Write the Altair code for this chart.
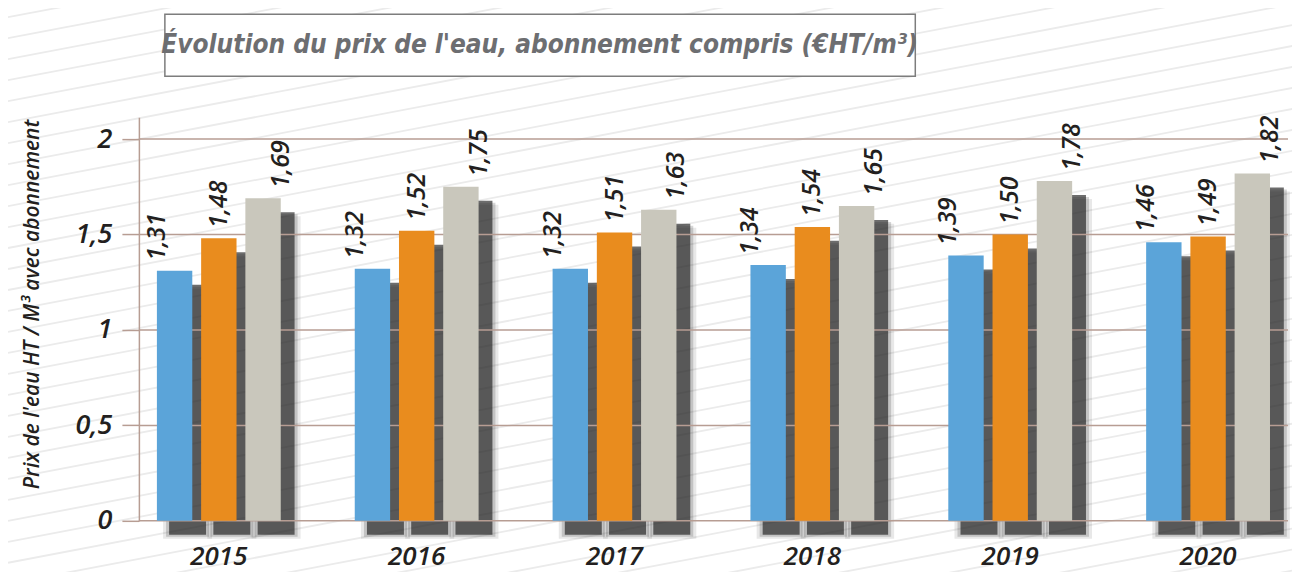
import altair as alt
import pandas as pd

years = ["2015", "2016", "2017", "2018", "2019", "2020"]
series = ["Série 1", "Série 2", "Série 3"]
serie1 = [1.31, 1.32, 1.32, 1.34, 1.39, 1.46]
serie2 = [1.48, 1.52, 1.51, 1.54, 1.50, 1.49]
serie3 = [1.69, 1.75, 1.63, 1.65, 1.78, 1.82]
colors = ["#5ba4d9", "#e98c1e", "#c9c7bc"]
y_ticks = [0, 0.5, 1, 1.5, 2]
title_text = "Évolution du prix de l'eau, abonnement compris (€HT/m³)"
y_title = "Prix de l'eau HT / M³ avec abonnement"

rows = []
for vals, s in zip([serie1, serie2, serie3], series):
    for y, v in zip(years, vals):
        rows.append({"annee": y, "serie": s, "prix": v})
df = pd.DataFrame(rows)
ticks_df = pd.DataFrame({"prix": y_ticks})

W, H = 1150, 404
GRID = "#b79d93"
FONT = "Open Sans"

x_scale = alt.Scale(paddingInner=0.374, paddingOuter=0.091)
x_axis = alt.Axis(title=None, orient="bottom", labelFontSize=26, labelFont=FONT,
                  labelFontStyle="italic", labelFontWeight=600,
                  labelColor="#231f20", labelPadding=23, zindex=1,
                  ticks=False, domain=False, grid=False, labelAngle=0)
y_axis = alt.Axis(values=y_ticks, title=y_title, orient="left", zindex=1,
                  labelExpr="replace('' + datum.value, '.', ',')",
                  labelFontSize=27, labelFont=FONT, labelFontStyle="italic",
                  labelFontWeight=600, labelColor="#231f20", labelPadding=10,
                  tickSize=17, tickColor=GRID, tickWidth=1.5,
                  domainColor=GRID, domainWidth=1.5, grid=False,
                  titleFont=FONT, titleFontSize=21, titleFontStyle="italic",
                  titleFontWeight=600, titleColor="#231f20",
                  titleAngle=270, titleX=-106, titleY=187,
                  titleAlign="center", titleBaseline="middle")
y_scale = alt.Scale(domain=[0, 2.115], nice=False, zero=True)

x_enc = alt.X("annee:N", sort=years, scale=x_scale, axis=x_axis)
y_enc = alt.Y("prix:Q", scale=y_scale, axis=y_axis)
xo_enc = alt.XOffset("serie:N", sort=series,
                     scale=alt.Scale(paddingInner=0.2, paddingOuter=0))
xo_shadow = alt.XOffset("serie:N", sort=series,
                        scale=alt.Scale(paddingInner=0.2, paddingOuter=0,
                                        range=[13, 137]))
color_enc = alt.Color("serie:N", sort=series,
                      scale=alt.Scale(domain=series, range=colors), legend=None)

base = alt.Chart(df)

# stripes background (decoration)
stripes = alt.Chart(alt.sequence(0, 50, as_="i")).transform_calculate(
    x1="-131", x2="1161",
    y1="-100 + 21 * datum.i",
    y2="-100 + 21 * datum.i - 0.19 * 1292",
).mark_rule(color="#ebebeb", strokeWidth=1.8).encode(
    x=alt.X("x1:Q", scale=None, axis=None),
    x2="x2:Q",
    y=alt.Y("y1:Q", scale=None, axis=None),
    y2="y2:Q",
)

def shadow(w, dy, op):
    return base.mark_bar(color="#1e1e1e", opacity=op, width=w, yOffset=dy).encode(
        x=x_enc, xOffset=xo_shadow, y=y_enc,
    )

shadows = [shadow(49, 18, 0.10), shadow(43, 16, 0.18), shadow(37, 14, 0.65)]

grid = alt.Chart(ticks_df).mark_rule(color=GRID, strokeWidth=1.5).encode(y=y_enc)

bars = base.mark_bar().encode(x=x_enc, xOffset=xo_enc, y=y_enc, color=color_enc)

labels = base.transform_calculate(
    lab="replace(format(datum.prix, '.2f'), '.', ',')"
).mark_text(angle=270, align="left", baseline="middle", dx=10,
            font=FONT, fontSize=25, fontStyle="italic", fontWeight=600,
            color="#231f20").encode(
    x=x_enc, xOffset=xo_enc, y=y_enc, text="lab:N",
)

inner = alt.layer(*shadows, grid, bars, labels).resolve_scale(xOffset="independent")

title_box = alt.Chart(pd.DataFrame({"t": [title_text]})).mark_rect(
    fill="white", stroke="#7d7d7d", strokeWidth=1.5).encode(
    x=alt.value(26), x2=alt.value(777), y=alt.value(-103), y2=alt.value(-41))

title_lbl = alt.Chart(pd.DataFrame({"t": [title_text]})).mark_text(
    font="DejaVu Sans Condensed", fontSize=26, fontStyle="italic", fontWeight="bold",
    color="#6d6e71", align="center", baseline="middle").encode(
    x=alt.value(401), y=alt.value(-72), text="t:N")

chart = alt.layer(stripes, title_box, title_lbl, inner).resolve_scale(
    x="independent", y="independent"
).properties(
    width=W, height=H,
    autosize=alt.AutoSizeParams(type="none"),
    padding={"left": 131, "top": 109, "right": 4, "bottom": 51},
).configure_view(stroke=None)

chart.save("out.html", embed_options={"renderer": "svg", "actions": False})
